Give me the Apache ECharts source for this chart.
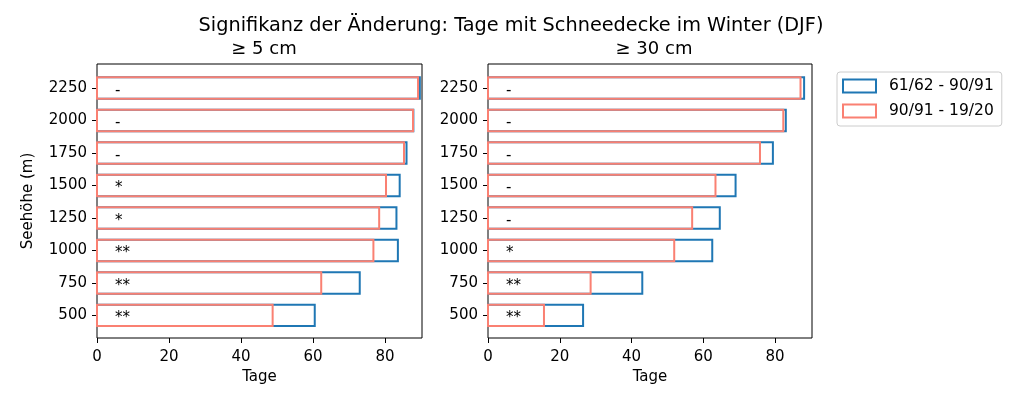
<!DOCTYPE html>
<html><head><meta charset="utf-8">
<script src="https://cdn.jsdelivr.net/npm/echarts@6/dist/echarts.min.js"></script>
<style>html,body{margin:0;padding:0;background:#fff}#c{width:1020px;height:394px}</style>
</head><body><div id="c"></div>
<script>
const elevations = [500, 750, 1000, 1250, 1500, 1750, 2000, 2250];
// >= 5 cm
const blue5 = [60.5, 73.0, 83.6, 83.2, 84.1, 86.0, 87.9, 89.7];
const red5  = [48.8, 62.3, 76.8, 78.4, 80.3, 85.3, 87.8, 89.2];
const sig5  = ['**', '**', '**', '*', '*', '-', '-', '-'];
// >= 30 cm
const blue30 = [26.5, 43.0, 62.5, 64.6, 69.0, 79.4, 83.0, 88.1];
const red30  = [15.6, 28.6, 51.9, 56.9, 63.4, 75.8, 82.3, 87.1];
const sig30  = ['**', '**', '*', '-', '-', '-', '-', '-'];
const xTicks = [0, 20, 40, 60, 80];
const periodNames = ['61/62 - 90/91', '90/91 - 19/20'];
const mainTitle = 'Signifikanz der Änderung: Tage mit Schneedecke im Winter (DJF)';
const subTitles = ['≥ 5 cm', '≥ 30 cm'];

const FONT = 'DejaVu Sans';
const BLUE = '#1f77b4', RED = '#fa8072';
const BAR_H = 165;   // bar thickness in metres (axis units)
const SIG_X = 5;     // x position of significance marks (days)

const chart = echarts.init(document.getElementById('c'), null, {renderer: 'canvas'});

function barSeries(name, vals, color, idx) {
  return {
    type: 'custom', name: name, xAxisIndex: idx, yAxisIndex: idx,
    data: vals.map((v, i) => [v, elevations[i]]),
    encode: {x: 0, y: 1},
    renderItem: function (params, api) {
      const x = api.value(0), y = api.value(1);
      const p0 = api.coord([0, y + BAR_H / 2]);
      const p1 = api.coord([x, y - BAR_H / 2]);
      return {
        type: 'rect',
        shape: {x: p0[0], y: p0[1], width: p1[0] - p0[0], height: p1[1] - p0[1]},
        style: {fill: 'none', stroke: color, lineWidth: 2}
      };
    },
    silent: true, animation: false
  };
}
function sigSeries(sig, idx) {
  return {
    type: 'custom', xAxisIndex: idx, yAxisIndex: idx,
    data: sig.map((s, i) => [SIG_X, elevations[i]]),
    encode: {x: 0, y: 1},
    renderItem: function (params, api) {
      const p = api.coord([api.value(0), api.value(1)]);
      return {
        type: 'text', x: p[0], y: p[1] + 3,
        style: {text: sig[params.dataIndex], fill: '#000', font: '15px "DejaVu Sans"', align: 'left', verticalAlign: 'middle'}
      };
    },
    silent: true, animation: false
  };
}
function xAxis(idx) {
  return {
    type: 'value', gridIndex: idx, min: 0, max: 90.3,
    name: 'Tage', nameLocation: 'middle', nameGap: 32,
    nameTextStyle: {color: '#000', fontFamily: FONT, fontSize: 15},
    axisLine: {show: false},
    axisTick: {show: true, length: 5, lineStyle: {color: '#000', width: 1}, customValues: xTicks},
    axisLabel: {color: '#000', fontFamily: FONT, fontSize: 15, margin: 12, customValues: xTicks,
                formatter: v => String(v)},
    splitLine: {show: false}
  };
}
function yAxis(idx) {
  return {
    type: 'value', gridIndex: idx, min: 326, max: 2435,
    name: idx === 0 ? 'Seehöhe (m)' : '', nameLocation: 'middle', nameGap: 61, nameRotate: 90,
    nameTextStyle: {color: '#000', fontFamily: FONT, fontSize: 15},
    axisLine: {show: false},
    axisTick: {show: true, length: 5, lineStyle: {color: '#000', width: 1}, customValues: elevations},
    axisLabel: {color: '#000', fontFamily: FONT, fontSize: 15, margin: 10, customValues: elevations,
                formatter: v => String(v)},
    splitLine: {show: false}
  };
}

chart.setOption({
  backgroundColor: '#fff',
  animation: false,
  title: [
    {text: mainTitle, left: 506, top: 11, textAlign: 'center',
     textStyle: {color: '#000', fontFamily: FONT, fontSize: 19.3, fontWeight: 'normal'}},
    {text: subTitles[0], left: 259, top: 35, textAlign: 'center',
     textStyle: {color: '#000', fontFamily: FONT, fontSize: 18, fontWeight: 'normal'}},
    {text: subTitles[1], left: 649, top: 35, textAlign: 'center',
     textStyle: {color: '#000', fontFamily: FONT, fontSize: 18, fontWeight: 'normal'}}
  ],
  legend: {
    orient: 'vertical', left: 837, top: 72,
    padding: [6, 8, 7, 5], itemGap: 9, itemWidth: 33, itemHeight: 13,
    backgroundColor: 'rgba(255,255,255,0.8)', borderColor: '#cccccc', borderWidth: 1, borderRadius: 3,
    textStyle: {color: '#000', fontFamily: FONT, fontSize: 15.5, padding: [0, 0, 0, 8]},
    data: [
      {name: periodNames[0], icon: 'rect', itemStyle: {color: 'transparent', borderColor: BLUE, borderWidth: 2}},
      {name: periodNames[1], icon: 'rect', itemStyle: {color: 'transparent', borderColor: RED, borderWidth: 2}}
    ]
  },
  grid: [
    {left: 97, top: 64, width: 325, height: 274, show: true, borderColor: '#000', borderWidth: 1, backgroundColor: 'transparent'},
    {left: 488, top: 64, width: 324, height: 274, show: true, borderColor: '#000', borderWidth: 1, backgroundColor: 'transparent'}
  ],
  xAxis: [xAxis(0), xAxis(1)],
  yAxis: [yAxis(0), yAxis(1)],
  series: [
    barSeries(periodNames[0], blue5, BLUE, 0),
    barSeries(periodNames[1], red5, RED, 0),
    sigSeries(sig5, 0),
    barSeries(periodNames[0], blue30, BLUE, 1),
    barSeries(periodNames[1], red30, RED, 1),
    sigSeries(sig30, 1)
  ]
});
</script>
</body></html>
